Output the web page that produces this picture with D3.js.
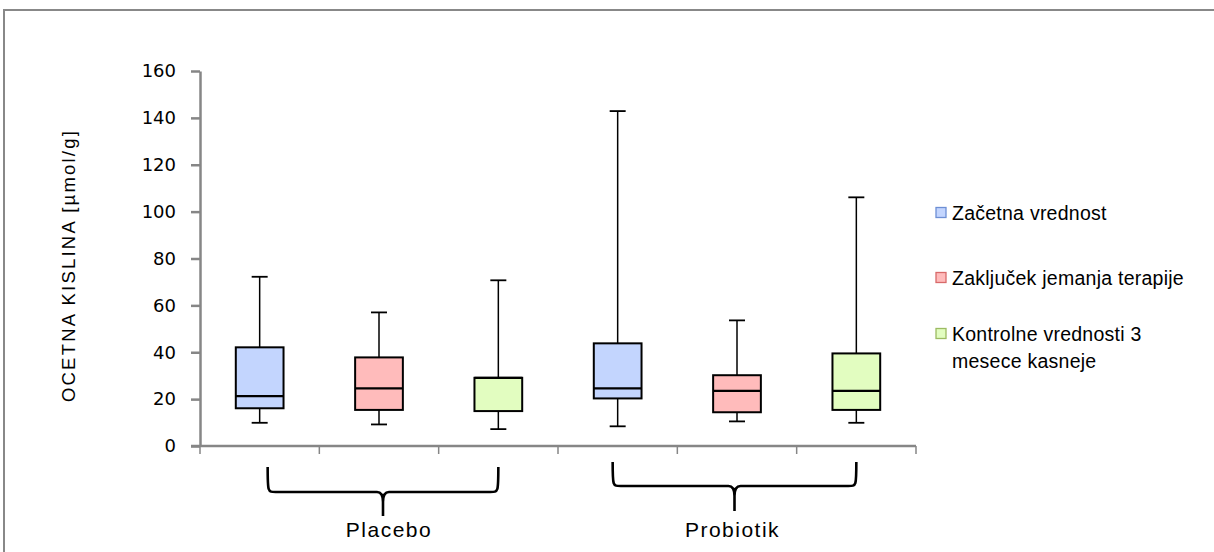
<!DOCTYPE html>
<html>
<head>
<meta charset="utf-8">
<script src="https://cdn.jsdelivr.net/npm/d3@7"></script>
<style>
  html, body { margin: 0; padding: 0; background: #fff; }
  svg { display: block; }
</style>
</head>
<body>
<div id="chart"></div>
<script>
// groups and series
const groups = ["Placebo", "Probiotik"]
const series = ["Začetna vrednost", "Zaključek jemanja terapije", "Kontrolne vrednosti 3 mesece kasneje"]
const seriesColors = ["#c3d5fe", "#ffbbbb", "#e2fdc0"]
const legendBorders = ["#6d8fd4", "#d86a6a", "#9cbb62"]

// box values, order: Placebo x3 series, Probiotik x3 series
const minVals = [9.9, 9.2, 7.2, 8.4, 10.5, 9.9]
const q1Vals = [16.1, 15.4, 14.9, 20.3, 14.4, 15.4]
const medianVals = [21.3, 24.6, 29.1, 24.6, 23.5, 23.5]
const q3Vals = [42.1, 37.8, 29.1, 43.8, 30.2, 39.5]
const maxVals = [72.2, 57.0, 70.7, 142.9, 53.6, 106.1]

const yTicks = [0, 20, 40, 60, 80, 100, 120, 140, 160]
const yTitle = "OCETNA KISLINA [µmol/g]"

const width = 1214
const height = 552
const axisColor = "#868686"

const boxes = minVals.map((v, i) => ({
  key: "b" + i,
  group: Math.floor(i / 3),
  s: i % 3,
  min: v, q1: q1Vals[i], med: medianVals[i], q3: q3Vals[i], max: maxVals[i]
}))

const svg = d3.select("#chart").append("svg")
  .attr("width", width)
  .attr("height", height)
  .attr("viewBox", [0, 0, width, height])

// outer frame (only top & left visible)
svg.append("path")
  .attr("d", `M4,${height} V10 H${width}`)
  .attr("fill", "none")
  .attr("stroke", "#888")
  .attr("stroke-width", 2)

const x = d3.scaleBand()
  .domain(boxes.map(d => d.key))
  .range([200, 916])
  .padding(0)

const y = d3.scaleLinear()
  .domain([0, 160])
  .range([446, 71])

// y axis
const yAxis = svg.append("g")
  .attr("transform", "translate(200,0)")
  .call(d3.axisLeft(y).tickValues(yTicks).tickSize(9).tickPadding(15).tickSizeOuter(0))
yAxis.select(".domain").attr("stroke", axisColor).attr("stroke-width", 2.5)
yAxis.selectAll(".tick line").attr("stroke", axisColor).attr("stroke-width", 2.5)
yAxis.selectAll(".tick text")
  .attr("font-family", "DejaVu Sans, Verdana, sans-serif")
  .attr("font-size", 18)
  .attr("fill", "#000")

// x axis: ticks on band boundaries
const bounds = boxes.map(d => x(d.key)).concat([x.range()[1]])
const xAxis = svg.append("g")
xAxis.append("line")
  .attr("x1", 191).attr("x2", x.range()[1])
  .attr("y1", y(0)).attr("y2", y(0))
  .attr("stroke", axisColor).attr("stroke-width", 2.5)
xAxis.selectAll("line.tk").data(bounds).join("line")
  .attr("class", "tk")
  .attr("x1", d => d).attr("x2", d => d)
  .attr("y1", y(0)).attr("y2", y(0) + 8)
  .attr("stroke", axisColor).attr("stroke-width", 1.5)

// y title
svg.append("text")
  .attr("transform", `translate(75,${(y(0) + y(160)) / 2 + 7}) rotate(-90)`)
  .attr("text-anchor", "middle")
  .attr("font-family", "Liberation Sans, Arial, sans-serif")
  .attr("font-size", 18.5)
  .attr("letter-spacing", 2.2)
  .attr("fill", "#000")
  .text(yTitle)

// boxes
const bw = x.bandwidth() * 0.4
const capW = 16
const bx = svg.append("g")
const g = bx.selectAll("g").data(boxes).join("g")
  .attr("transform", d => `translate(${x(d.key) + x.bandwidth() / 2},0)`)

g.append("line")
  .attr("x1", 0).attr("x2", 0)
  .attr("y1", d => y(d.max)).attr("y2", d => y(d.q3))
  .attr("stroke", "#000").attr("stroke-width", 1.5)
g.append("line")
  .attr("x1", 0).attr("x2", 0)
  .attr("y1", d => y(d.q1)).attr("y2", d => y(d.min))
  .attr("stroke", "#000").attr("stroke-width", 1.5)
g.append("line")
  .attr("x1", -capW / 2).attr("x2", capW / 2)
  .attr("y1", d => y(d.max)).attr("y2", d => y(d.max))
  .attr("stroke", "#000").attr("stroke-width", 1.8)
g.append("line")
  .attr("x1", -capW / 2).attr("x2", capW / 2)
  .attr("y1", d => y(d.min)).attr("y2", d => y(d.min))
  .attr("stroke", "#000").attr("stroke-width", 1.8)
g.append("rect")
  .attr("x", -bw / 2)
  .attr("width", bw)
  .attr("y", d => y(d.q3))
  .attr("height", d => y(d.q1) - y(d.q3))
  .attr("fill", d => seriesColors[d.s])
  .attr("stroke", "#000").attr("stroke-width", 2)
g.append("line")
  .attr("x1", -bw / 2).attr("x2", bw / 2)
  .attr("y1", d => y(d.med)).attr("y2", d => y(d.med))
  .attr("stroke", "#000").attr("stroke-width", 2.2)

// group braces (hand-drawn look: slight offsets per group)
const braceLeftShift = [8, -5]
const braceTop = [467, 462]
const braceMid = [492, 486]
const braceTip = [516, 511]
const labelShift = [6, -2]
groups.forEach((name, gi) => {
  const first = boxes[gi * 3], last = boxes[gi * 3 + 2]
  const x0 = x(first.key) + x.bandwidth() / 2 + braceLeftShift[gi]
  const x1 = x(last.key) + x.bandwidth() / 2
  const m = (x0 + x1) / 2
  const t = braceTop[gi], h = braceMid[gi], p = braceTip[gi]
  svg.append("path")
    .attr("d", `M${x0},${t} C${x0},${h} ${x0},${h} ${x0 + 8},${h} H${m - 6} Q${m},${h} ${m},${h + 10} V${p}` +
      ` M${m},${h + 10} Q${m},${h} ${m + 6},${h} H${x1 - 8} C${x1},${h} ${x1},${h} ${x1},${t}`)
    .attr("fill", "none")
    .attr("stroke", "#000")
    .attr("stroke-width", 2.6)
  svg.append("text")
    .attr("x", m + labelShift[gi])
    .attr("y", 537)
    .attr("text-anchor", "middle")
    .attr("font-family", "Liberation Sans, Arial, sans-serif")
    .attr("font-size", 21)
    .attr("letter-spacing", 1.5)
    .attr("fill", "#000")
    .text(name)
})

// legend
const legend = svg.append("g")
const rowY = [213, 278, 334]
series.forEach((s, i) => {
  legend.append("rect")
    .attr("x", 936).attr("y", rowY[i] - 5.5)
    .attr("width", 10).attr("height", 10)
    .attr("fill", seriesColors[i])
    .attr("stroke", legendBorders[i])
    .attr("stroke-width", 1.3)
  const lines = i === 2 ? ["Kontrolne vrednosti 3", "mesece kasneje"] : [s]
  const t = legend.append("text")
    .attr("x", 952)
    .attr("y", rowY[i] + 7)
    .attr("font-family", "Liberation Sans, Arial, sans-serif")
    .attr("font-size", 19.5)
    .attr("letter-spacing", 0.25)
    .attr("fill", "#000")
  lines.forEach((ln, j) => {
    t.append("tspan").attr("x", 952).attr("dy", j === 0 ? 0 : 27).text(ln)
  })
})
</script>
</body>
</html>
